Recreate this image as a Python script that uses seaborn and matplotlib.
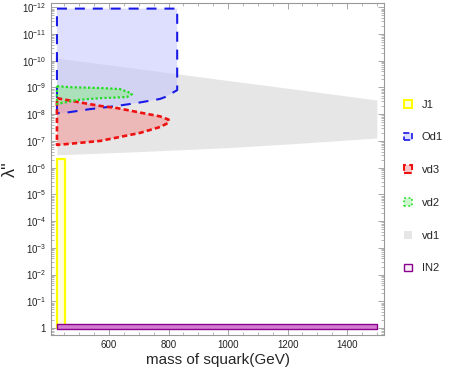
import numpy as np
import matplotlib
matplotlib.use("Agg")
import matplotlib.pyplot as plt
import matplotlib.ticker as mticker
from matplotlib.patches import Patch
import seaborn as sns

# squark mass (GeV) and log10(lambda'') of each region boundary
vd1_mass = [425, 700, 1000, 1250, 1500]
vd1_upper = [-10.10, -9.70, -9.26, -8.90, -8.53]
vd1_lower = [-6.48, -6.60, -6.75, -6.92, -7.11]

od1_mass = [425, 829, 829, 788, 771, 694, 627, 536, 445, 425, 425]
od1_log = [-11.95, -11.95, -8.90, -8.64, -8.57, -8.42, -8.31, -8.19, -8.04, -8.04, -11.95]

vd3_mass = [425, 459, 513, 570, 627, 714, 771, 800, 800, 771, 704, 637, 570, 503, 425, 425]
vd3_log = [-8.60, -8.53, -8.42, -8.31, -8.23, -8.04, -7.92, -7.80, -7.68,
           -7.52, -7.30, -7.15, -7.00, -6.93, -6.85, -8.60]

vd2_mass = [425, 469, 570, 637, 664, 677, 660, 570, 492, 425, 425]
vd2_log = [-9.05, -9.01, -8.98, -8.94, -8.83, -8.75, -8.64, -8.60, -8.53, -8.38, -9.05]

j1_mass = [425, 452, 452, 425, 425]
j1_log = [-6.33, -6.33, 0.0, 0.0, -6.33]

in2_mass = [425, 1500, 1500, 425, 425]
in2_log = [-0.17, -0.17, 0.02, 0.02, -0.17]

labels = ["J1", "Od1", "vd3", "vd2", "vd1", "IN2"]


def inv(logs):
    # the frame is drawn in 1/lambda so small couplings sit at the top
    return 10.0 ** (-np.asarray(logs, dtype=float))


sns.set_style("ticks")
plt.rcParams["font.family"] = ["Liberation Sans", "DejaVu Sans"]
plt.rcParams["mathtext.default"] = "regular"

fig = plt.figure(figsize=(4.57, 3.73), dpi=100)
ax = fig.add_axes([51 / 457, 1 - 335 / 373, (384 - 51) / 457, (335 - 3) / 373])
ax.set_yscale("log")

# vd1 band
ax.fill_between(vd1_mass, inv(vd1_lower), inv(vd1_upper), color="#e6e6e6", lw=0, zorder=1)

# Od1
ax.fill(od1_mass, inv(od1_log), color=(0.75, 0.75, 1.0), alpha=0.5, lw=0, zorder=2)
sns.lineplot(x=od1_mass, y=inv(od1_log), sort=False, estimator=None, ax=ax,
             color="#1a1ae6", lw=1.5, linestyle=(0, (4.8, 3.8)), zorder=5)

# vd3
ax.fill(vd3_mass, inv(vd3_log), color=(0.95, 0.55, 0.55), alpha=0.5, lw=0, zorder=3)
sns.lineplot(x=vd3_mass, y=inv(vd3_log), sort=False, estimator=None, ax=ax,
             color="#ee1111", lw=1.9, linestyle=(0, (2, 1.2)), zorder=6)

# vd2
ax.fill(vd2_mass, inv(vd2_log), color=(0.55, 0.93, 0.55), alpha=0.55, lw=0, zorder=4)
sns.lineplot(x=vd2_mass, y=inv(vd2_log), sort=False, estimator=None, ax=ax,
             color="#22dd22", lw=1.6, linestyle=(0, (1, 1)), zorder=7)

# J1
ax.fill(j1_mass, inv(j1_log), color="#ffffe0", lw=0, zorder=2)
sns.lineplot(x=j1_mass, y=inv(j1_log), sort=False, estimator=None, ax=ax,
             color="#ffff00", lw=1.6, zorder=8)

# IN2
ax.fill(in2_mass, inv(in2_log), color="#d27cd2", lw=0, zorder=8)
sns.lineplot(x=in2_mass, y=inv(in2_log), sort=False, estimator=None, ax=ax,
             color="#8b008b", lw=1.0, zorder=9)

ax.set_xlim(405, 1524)
ax.set_ylim(10 ** -0.26, 10 ** 12.16)

ax.xaxis.set_major_locator(mticker.FixedLocator([600, 800, 1000, 1200, 1400]))
ax.xaxis.set_minor_locator(mticker.MultipleLocator(50))
ax.yaxis.set_major_locator(mticker.LogLocator(base=10, numticks=30))
ax.yaxis.set_minor_locator(mticker.LogLocator(base=10, subs=np.arange(2, 10), numticks=30))


def lam_label(v, pos):
    k = int(round(np.log10(v)))
    return "1" if k == 0 else "$10^{-%d}$" % k


ax.yaxis.set_major_formatter(mticker.FuncFormatter(lam_label))
ax.yaxis.set_minor_formatter(mticker.NullFormatter())

ax.tick_params(which="both", direction="in", top=True, right=True,
               color="#999999", labelsize=7, labelcolor="#222222")
ax.tick_params(which="major", length=4, width=0.6)
ax.tick_params(which="minor", length=2.5, width=0.5)
for s in ax.spines.values():
    s.set_color("#999999")
    s.set_linewidth(0.8)

ax.set_xlabel("mass of squark(GeV)", fontsize=11, labelpad=2)
ax.set_ylabel("λ''", fontsize=13, labelpad=2)

handles = [
    Patch(facecolor="#ffffe0", edgecolor="#ffff00", lw=1.5),
    Patch(facecolor=(0.87, 0.87, 1.0), edgecolor="#1a1ae6", lw=1.2, linestyle="--"),
    Patch(facecolor=(0.97, 0.78, 0.78), edgecolor="#ee1111", lw=1.5, linestyle="--"),
    Patch(facecolor=(0.8, 0.97, 0.8), edgecolor="#22dd22", lw=1.2, linestyle=":"),
    Patch(facecolor="#e6e6e6", edgecolor="none"),
    Patch(facecolor="#f8f0f8", edgecolor="#8b008b", lw=1.0),
]
fig.legend(handles, labels, loc="center left", bbox_to_anchor=(0.862, 0.5),
           frameon=False, fontsize=8, handlelength=0.7, handleheight=0.7,
           labelspacing=2.05, handletextpad=0.9)

fig.savefig("out.png", dpi=100)
